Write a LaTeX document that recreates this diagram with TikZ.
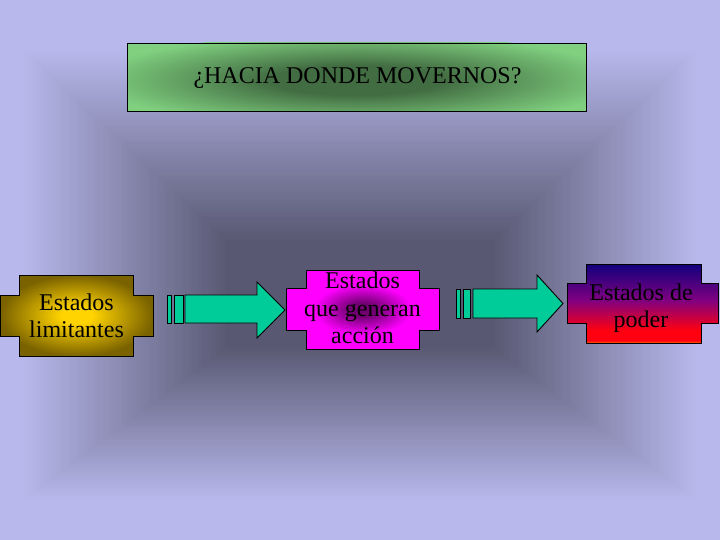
\documentclass[tikz,border=0pt]{standalone}
\usepackage{fontspec}
\setmainfont{Liberation Serif}
\definecolor{bglight}{HTML}{B8B8EC}
\definecolor{bgdark}{HTML}{585872}
\definecolor{titlelight}{HTML}{80D080}
\definecolor{titledark}{HTML}{426C42}
\definecolor{goldin}{HTML}{FFD400}
\definecolor{goldout}{HTML}{7A6200}
\definecolor{magout}{HTML}{FF00FF}
\definecolor{magin}{HTML}{700070}
\definecolor{podnavy}{HTML}{10007C}
\definecolor{podpur}{HTML}{800080}
\definecolor{podred}{HTML}{FF0010}
\definecolor{podor}{HTML}{FF6A00}
\definecolor{teal}{HTML}{00CC99}
\pgfdeclareradialshading{titlesh}{\pgfpoint{0bp}{0bp}}{color(0bp)=(titledark); color(8bp)=(titledark); color(25bp)=(titlelight); color(50bp)=(titlelight)}
\pgfdeclareradialshading{goldsh}{\pgfpoint{0bp}{0bp}}{color(0bp)=(goldin); color(5bp)=(goldin); color(25bp)=(goldout); color(50bp)=(goldout)}
\pgfdeclareradialshading{magsh}{\pgfpoint{0bp}{0bp}}{color(0bp)=(magin); color(4bp)=(magin); color(16bp)=(magout); color(50bp)=(magout)}
\pgfdeclareverticalshading{podsh}{100bp}{color(0bp)=(podor); color(25bp)=(podor); color(26.5bp)=(podred); color(33bp)=(podred); color(52bp)=(podpur); color(75bp)=(podnavy); color(100bp)=(podnavy)}
\tikzset{
  outl/.style={draw=black, line width=0.9pt, line join=miter},
  blockarrow/.style={outl, fill=teal},
  txt/.style={align=center, text=black, font=\fontsize{24}{27.5}\selectfont, inner sep=0pt}
}
\begin{document}
\begin{tikzpicture}[x=1pt,y=-1pt]
\useasboundingbox (0,0) rectangle (720,540);
\fill[bglight] (0,0) rectangle (720,540);
% background: rectangular gradient towards a dark centre
\begin{scope}
\clip (0,0) rectangle (720,540);
\foreach \i in {0,...,119}{
  \pgfmathsetmacro\s{1-\i/120}
  \pgfmathtruncatemacro\p{max(0,min(100,(0.84-\s)/0.64*100))}
  \fill[bgdark!\p!bglight] ({290-320*\s},{300-300*\s}) rectangle ({430+320*\s},{300+240*\s});
}
\end{scope}
% title box
\begin{scope}
  \clip (127,43) rectangle (586,111);
  \fill[titlelight] (127,43) rectangle (586,111);
  \shade[shading=titlesh] (356.5,80) ellipse (265 and 46);
\end{scope}
\draw[outl] (127,43) rectangle (586,111);
\node[txt] (title) at (357.5,78) {¿HACIA DONDE MOVERNOS?};
% left shape
\shade[shading=goldsh, outl] (19,275) -- (133,275) -- (133,295) -- (153,295) -- (153,336) -- (133,336) -- (133,356) -- (19,356) -- (19,336) -- (0.5,336) -- (0.5,295) -- (19,295) -- cycle;
\node[txt] (lim) at (76.5,316) {Estados\\limitantes};
% middle shape
\shade[shading=magsh, outl] (306,270) -- (419,270) -- (419,288) -- (439,288) -- (439,330) -- (419,330) -- (419,349) -- (306,349) -- (306,330) -- (286,330) -- (286,288) -- (306,288) -- cycle;
\node[txt] (acc) at (362.5,308) {Estados\\que generan\\acción};
% right shape
\shade[shading=podsh, outl] (586,264) -- (701,264) -- (701,283) -- (718,283) -- (718,323) -- (701,323) -- (701,343) -- (586,343) -- (586,323) -- (567,323) -- (567,283) -- (586,283) -- cycle;
\node[txt] (pod) at (641,308) {Estados de\\poder};
% arrow 1
\draw[blockarrow] (167,295) rectangle (171,323);
\draw[blockarrow] (174,295) rectangle (183,323);
\draw[blockarrow] (185,295) -- (257,295) -- (257,282) -- (285,310) -- (257,338) -- (257,323) -- (185,323) -- cycle;
% arrow 2
\draw[blockarrow] (456,289) rectangle (460,318);
\draw[blockarrow] (463,289) rectangle (470,318);
\draw[blockarrow] (473,289) -- (537,289) -- (537,275) -- (563,303.5) -- (537,332) -- (537,318) -- (473,318) -- cycle;
\end{tikzpicture}
\end{document}
